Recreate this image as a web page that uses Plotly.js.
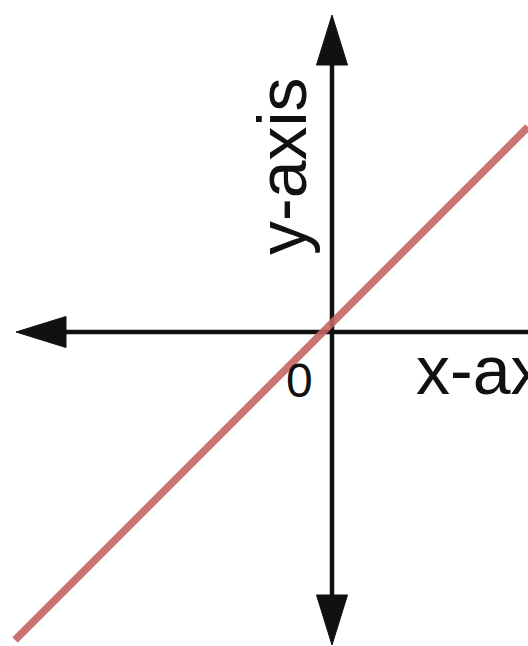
<!DOCTYPE html>
<html>
<head>
<meta charset="utf-8">
<script src="https://cdn.plot.ly/plotly-3.0.1.min.js"></script>
<style>
html,body{margin:0;padding:0;background:#fff;overflow:hidden;}
#chart{width:528px;height:646px;}
</style>
</head>
<body>
<div id="chart"></div>
<script>
// Data (units: the chart's own coordinate system, origin at the axes crossing)
const lineX = [-317, 196];
const lineY = [-308, 205];
const xAxisEnds = [-316, 230];   // left arrow tip, right end (runs off the picture)
const yAxisEnds = [-313, 317];   // bottom arrow tip, top arrow tip
const labels = {x: "x-axis", y: "y-axis", origin: "0"};

// Styling constants
const ARROW_LEN = 50;
const ARROW_HALF = 15.5;
const AXIS_COLOR = "#111111";
const AXIS_W = 4.5;
const LINE_COLOR = "rgba(196,100,100,0.9)";
const FONT = "Liberation Sans, Arial, Helvetica, sans-serif";

function arrow(tipX, tipY, dirX, dirY) {
  // dir points from base to tip
  const bx = tipX - dirX * ARROW_LEN, by = tipY - dirY * ARROW_LEN;
  const px = -dirY * ARROW_HALF, py = dirX * ARROW_HALF;
  return {
    x: [tipX, bx + px, bx - px, tipX],
    y: [tipY, by + py, by - py, tipY],
    mode: "lines", fill: "toself", fillcolor: AXIS_COLOR,
    line: {color: AXIS_COLOR, width: 1}, hoverinfo: "skip", type: "scatter"
  };
}

const traces = [
  // horizontal axis
  {x: [xAxisEnds[0] + ARROW_LEN - 4, xAxisEnds[1]], y: [0, 0], mode: "lines",
   line: {color: AXIS_COLOR, width: AXIS_W}, hoverinfo: "skip", type: "scatter"},
  // vertical axis
  {x: [0, 0], y: [yAxisEnds[0] + ARROW_LEN - 4, yAxisEnds[1] - ARROW_LEN + 4], mode: "lines",
   line: {color: AXIS_COLOR, width: AXIS_W}, hoverinfo: "skip", type: "scatter"},
  arrow(xAxisEnds[0], 0, -1, 0),
  arrow(0, yAxisEnds[1], 0, 1),
  arrow(0, yAxisEnds[0], 0, -1),
  // the red line
  {x: lineX, y: lineY, mode: "lines",
   line: {color: LINE_COLOR, width: 7.5}, hoverinfo: "skip", type: "scatter"}
];

const layout = {
  width: 528, height: 646,
  margin: {l: 0, r: 0, t: 0, b: 0, pad: 0},
  paper_bgcolor: "#ffffff", plot_bgcolor: "#ffffff",
  showlegend: false,
  xaxis: {range: [-332, 196], visible: false, fixedrange: true},
  yaxis: {range: [-314, 332], visible: false, fixedrange: true},
  annotations: [
    {x: -50, y: 166, xref: "x", yref: "y", text: labels.y, textangle: -90,
     showarrow: false, xanchor: "center", yanchor: "middle",
     font: {family: FONT, size: 68, color: AXIS_COLOR}},
    {x: 82, y: -38, xref: "x", yref: "y", text: labels.x,
     showarrow: false, xanchor: "left", yanchor: "middle",
     font: {family: FONT, size: 68, color: AXIS_COLOR}},
    {x: -33, y: -48, xref: "x", yref: "y", text: labels.origin,
     showarrow: false, xanchor: "center", yanchor: "middle",
     font: {family: FONT, size: 48, color: AXIS_COLOR}}
  ]
};

Plotly.newPlot("chart", traces, layout, {displayModeBar: false, staticPlot: true});
</script>
</body>
</html>
